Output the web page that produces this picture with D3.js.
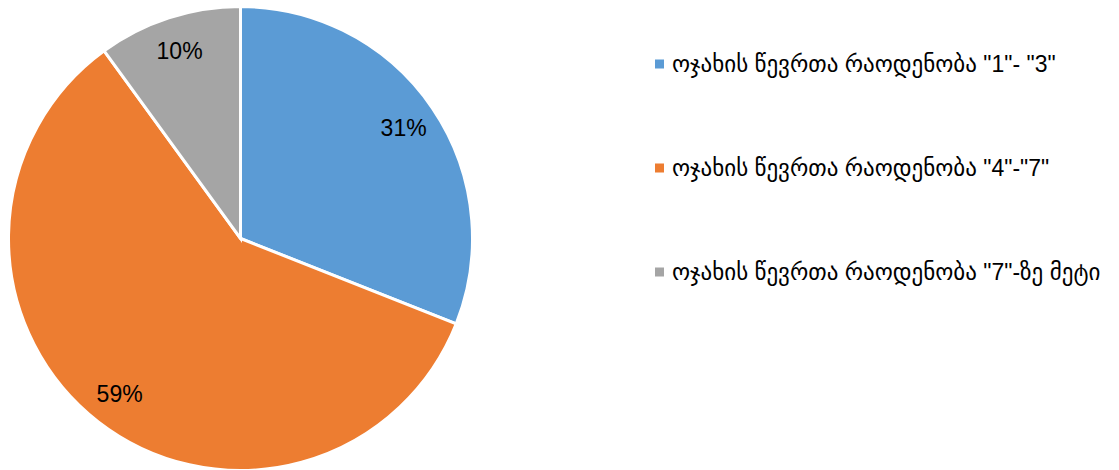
<!DOCTYPE html>
<html>
<head>
<meta charset="utf-8">
<script src="https://cdn.jsdelivr.net/npm/d3@7"></script>
<style>
  body { margin: 0; background: #fff; }
  svg text { font-family: "Liberation Sans", Arial, "DejaVu Sans", sans-serif; fill: #000; }
</style>
</head>
<body>
<div id="chart"></div>
<script>
const categories = [
  'ოჯახის წევრთა რაოდენობა "1"- "3"',
  'ოჯახის წევრთა რაოდენობა "4"-"7"',
  'ოჯახის წევრთა რაოდენობა "7"-ზე მეტი'
];
const values = [31, 59, 10];
const colors = ["#5b9bd5", "#ed7d31", "#a5a5a5"];

const width = 1119;
const height = 470;
const cx = 240.5, cy = 238.5, radius = 232;

const svg = d3.select("#chart")
  .append("svg")
  .attr("width", width)
  .attr("height", height);

const data = categories.map((c, i) => ({ label: c, value: values[i], color: colors[i] }));

const pie = d3.pie().sort(null).value(d => d.value);
const arc = d3.arc().innerRadius(0).outerRadius(radius);
const labelArc = d3.arc().innerRadius(radius * 0.85).outerRadius(radius * 0.85);

const g = svg.append("g").attr("transform", `translate(${cx},${cy})`);
const pieData = pie(data);

g.selectAll("path")
  .data(pieData)
  .enter()
  .append("path")
  .attr("d", arc)
  .attr("fill", d => d.data.color)
  .attr("stroke", "#fff")
  .attr("stroke-width", 3);

g.selectAll(".lbl")
  .data(pieData)
  .enter()
  .append("text")
  .attr("class", "lbl")
  .attr("transform", d => `translate(${labelArc.centroid(d)})`)
  .attr("text-anchor", "middle")
  .attr("dy", "0.35em")
  .style("font-size", "23px")
  .text(d => d.data.value + "%");

const legendY = d3.scalePoint().domain(categories).range([64, 272]);

const legend = svg.selectAll(".legend")
  .data(data)
  .enter()
  .append("g")
  .attr("class", "legend")
  .attr("transform", d => `translate(655,${legendY(d.label)})`);

legend.append("rect")
  .attr("x", 0)
  .attr("y", -4.5)
  .attr("width", 9)
  .attr("height", 9)
  .attr("fill", d => d.color);

legend.append("text")
  .attr("x", 17)
  .attr("dy", "0.35em")
  .style("font-size", "23px")
  .text(d => d.label);
</script>
</body>
</html>
